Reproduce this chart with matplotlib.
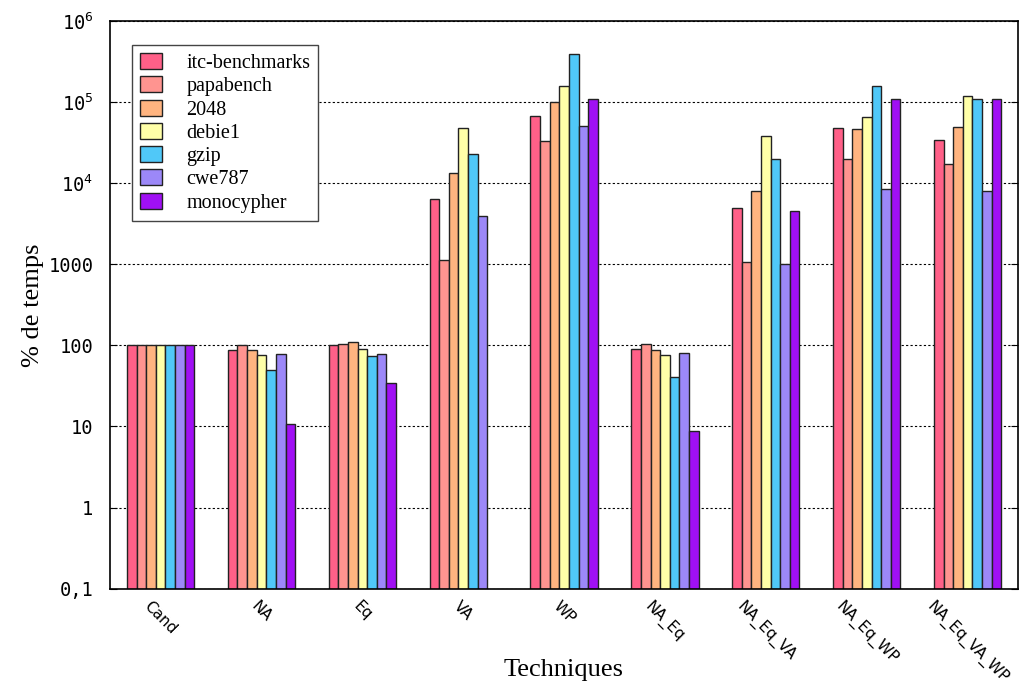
import numpy as np
import matplotlib.pyplot as plt

plt.rcParams['mathtext.fontset'] = 'custom'
plt.rcParams['mathtext.rm'] = 'DejaVu Sans Mono'

techniques = ['Cand', 'NA', 'Eq', 'VA', 'WP', 'NA_Eq', 'NA_Eq_VA', 'NA_Eq_WP', 'NA_Eq_VA_WP']
benchmarks = ['itc-benchmarks', 'papabench', '2048', 'debie1', 'gzip', 'cwe787', 'monocypher']
colors = ['#ff6088', '#ff9490', '#ffb480', '#ffffa8', '#50c8f8', '#9c88f8', '#a010f4']

itc = [100, 89, 100, 6400, 67000, 90, 4900, 48000, 34000]
papabench = [100, 100, 104, 1140, 33000, 104, 1060, 20000, 17200]
b2048 = [100, 87.5, 109, 13400, 100000, 87.5, 8000, 46600, 49500]
debie1 = [100, 76.5, 91, 47800, 160000, 76.5, 38000, 65000, 118000]
gzip = [100, 49.6, 74, 23200, 400000, 41, 20000, 157000, 111000]
cwe787 = [100, 79, 79, 3980, 51000, 79.6, 1000, 8400, 8150]
monocypher = [100, 10.6, 34.3, np.nan, 109000, 8.9, 4550, 109000, 109000]

series = [itc, papabench, b2048, debie1, gzip, cwe787, monocypher]

fig, ax = plt.subplots(figsize=(10.2, 6.86), dpi=100)
fig.subplots_adjust(left=0.108, right=0.998, top=0.969, bottom=0.142)

x = np.arange(len(techniques))
w = 0.667 / len(series)
for i, (vals, name) in enumerate(zip(series, benchmarks)):
    ax.bar(x - 0.333 + w * (i + 0.5), vals, width=w, color=colors[i],
           edgecolor='#222222', linewidth=1.0, label=name, zorder=2)

ax.set_yscale('log')
ax.set_ylim(0.1, 1e6)
ax.set_xlim(-0.5, len(techniques) - 0.5)
yt = [0.1, 1, 10, 100, 1000, 1e4, 1e5, 1e6]
ax.set_yticks(yt)
ax.set_yticklabels(['0,1', '1', '10', '100', '1000',
                    r'$\mathregular{10^{4}}$', r'$\mathregular{10^{5}}$', r'$\mathregular{10^{6}}$'],
                   family='DejaVu Sans Mono', fontsize=13.5)
ax.minorticks_off()
ax.tick_params(axis='y', direction='in', length=5, right=True, pad=12)
ax.set_xticks(x)
ax.set_xticklabels(techniques, rotation=-45, ha='center', va='top',
                   family='DejaVu Sans', fontsize=11)
ax.tick_params(axis='x', length=0, pad=7)

ax.grid(axis='y', color='black', linestyle=(0, (2, 2)), linewidth=0.8)
ax.set_axisbelow(True)
for s in ax.spines.values():
    s.set_linewidth(1.2)

ax.set_ylabel('% de temps', family='Liberation Serif', fontsize=19)
ax.yaxis.set_label_coords(-0.073, 0.5)
ax.set_xlabel('Techniques', family='Liberation Serif', fontsize=19)
ax.xaxis.set_label_coords(0.5, -0.124)

leg = ax.legend(loc='upper left', bbox_to_anchor=(0.024, 0.958),
                prop={'family': 'Liberation Serif', 'size': 14.5},
                fancybox=False, framealpha=1, edgecolor='#444444',
                handlelength=1.1, handleheight=0.85, labelspacing=0.16,
                handletextpad=1.2, borderpad=0.4, borderaxespad=0)
leg.get_frame().set_linewidth(1.0)
leg.set_zorder(5)

plt.savefig('out.png')
